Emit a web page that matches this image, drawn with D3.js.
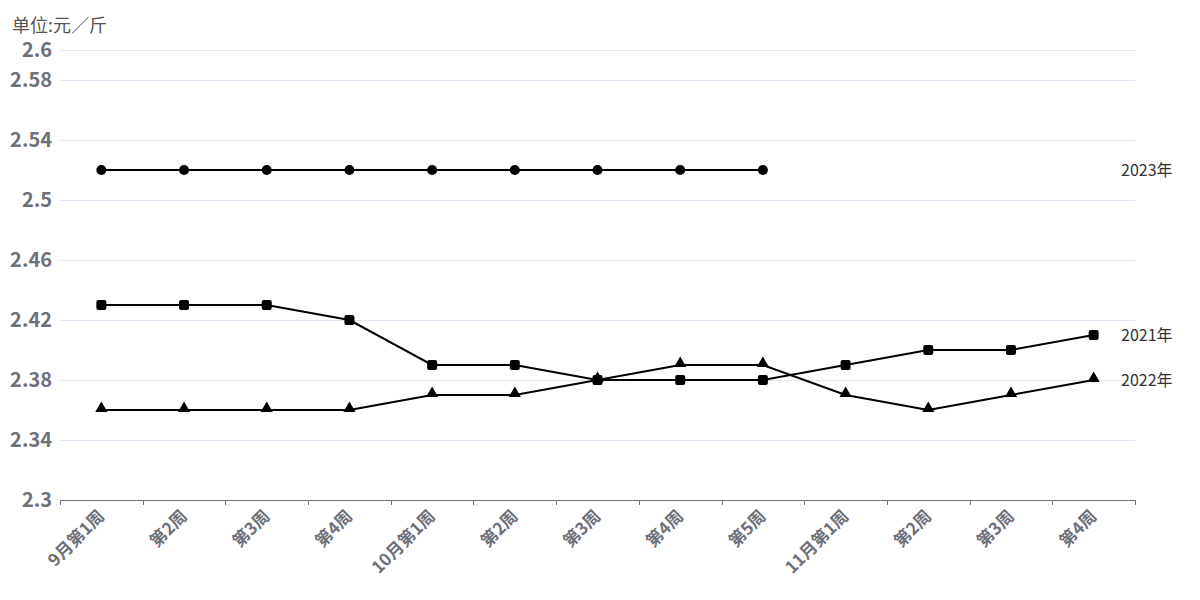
<!DOCTYPE html>
<html><head><meta charset="utf-8">
<script src="https://cdn.jsdelivr.net/npm/d3@7"></script>
<style>body{margin:0;background:#fff;}svg{display:block;font-family:"Noto Sans CJK SC","Noto Sans",sans-serif;}</style>
</head><body>
<svg id="c" width="1200" height="600"></svg>
<script>
const categories = ["9月第1周","第2周","第3周","第4周","10月第1周","第2周","第3周","第4周","第5周","11月第1周","第2周","第3周","第4周"];
const s2023 = [2.52,2.52,2.52,2.52,2.52,2.52,2.52,2.52,2.52];
const s2021 = [2.43,2.43,2.43,2.42,2.39,2.39,2.38,2.38,2.38,2.39,2.40,2.40,2.41];
const s2022 = [2.36,2.36,2.36,2.36,2.37,2.37,2.38,2.39,2.39,2.37,2.36,2.37,2.38];
const yTicks = [2.3,2.34,2.38,2.42,2.46,2.5,2.54,2.58,2.6];
const series = [
  {name:"2023年", values:s2023, symbol:"circle"},
  {name:"2021年", values:s2021, symbol:"square"},
  {name:"2022年", values:s2022, symbol:"triangle"}
];
const svg = d3.select("#c");
const L=60,R=1135,T=50,B=500;
const x = d3.scaleBand().domain(d3.range(categories.length)).range([L,R]);
const y = d3.scaleLinear().domain([2.3,2.6]).range([B,T]);
const gray="#6e7079";
// grid
svg.append("g").selectAll("line").data(yTicks.filter(d=>d!==2.3)).join("line")
  .attr("x1",L).attr("x2",R).attr("y1",d=>Math.round(y(d))+0.5).attr("y2",d=>Math.round(y(d))+0.5)
  .attr("stroke","#dfe5f2").attr("stroke-width",1);
// y labels
svg.append("g").selectAll("text").data(yTicks).join("text")
  .attr("x",52).attr("y",d=>y(d)).attr("dy","0.36em").attr("text-anchor","end")
  .attr("font-size",20).attr("font-weight","bold").attr("fill",gray).text(d=>d);
// x axis
svg.append("line").attr("x1",L).attr("x2",R).attr("y1",B+0.5).attr("y2",B+0.5).attr("stroke",gray);
const bounds = d3.range(categories.length+1).map(i=> i<categories.length ? x(i) : R);
svg.append("g").selectAll("line").data(bounds).join("line")
  .attr("x1",d=>Math.round(d)+0.5).attr("x2",d=>Math.round(d)+0.5).attr("y1",B).attr("y2",B+5).attr("stroke",gray);
svg.append("g").selectAll("text").data(categories).join("text")
  .attr("transform",(d,i)=>`translate(${x(i)+x.bandwidth()/2},${B+13}) rotate(-45)`)
  .attr("text-anchor","end").attr("dy","0.35em")
  .attr("font-size",17).attr("font-weight","bold").attr("fill",gray).text(d=>d);
// unit
svg.append("text").attr("x",12).attr("y",32).attr("font-size",18).attr("fill","#555").text("单位:元／斤");
// series
const cx = i=> x(i)+x.bandwidth()/2;
const line = d3.line().x((d,i)=>cx(i)).y(d=>y(d));
const sym = {circle:d3.symbolCircle, triangle:d3.symbolTriangle};
const size = {circle:80, triangle:65};
series.forEach(s=>{
  svg.append("path").attr("d",line(s.values)).attr("fill","none").attr("stroke","#000").attr("stroke-width",2);
  const g=svg.append("g");
  s.values.forEach((v,i)=>{
    if(s.symbol==="square"){
      g.append("rect").attr("x",cx(i)-5).attr("y",y(v)-5).attr("width",10).attr("height",10).attr("rx",2).attr("fill","#000");
    } else {
      g.append("path").attr("d",d3.symbol().type(sym[s.symbol]).size(size[s.symbol])())
        .attr("transform",`translate(${cx(i)},${y(v)+(s.symbol==="triangle"?-1.5:0)})`).attr("fill","#000");
    }
  });
  svg.append("text").attr("x",1121).attr("y",y(s.values[s.values.length-1])).attr("dy","0.35em")
    .attr("font-size",16).attr("fill","#333").text(s.name);
});
</script>
</body></html>
